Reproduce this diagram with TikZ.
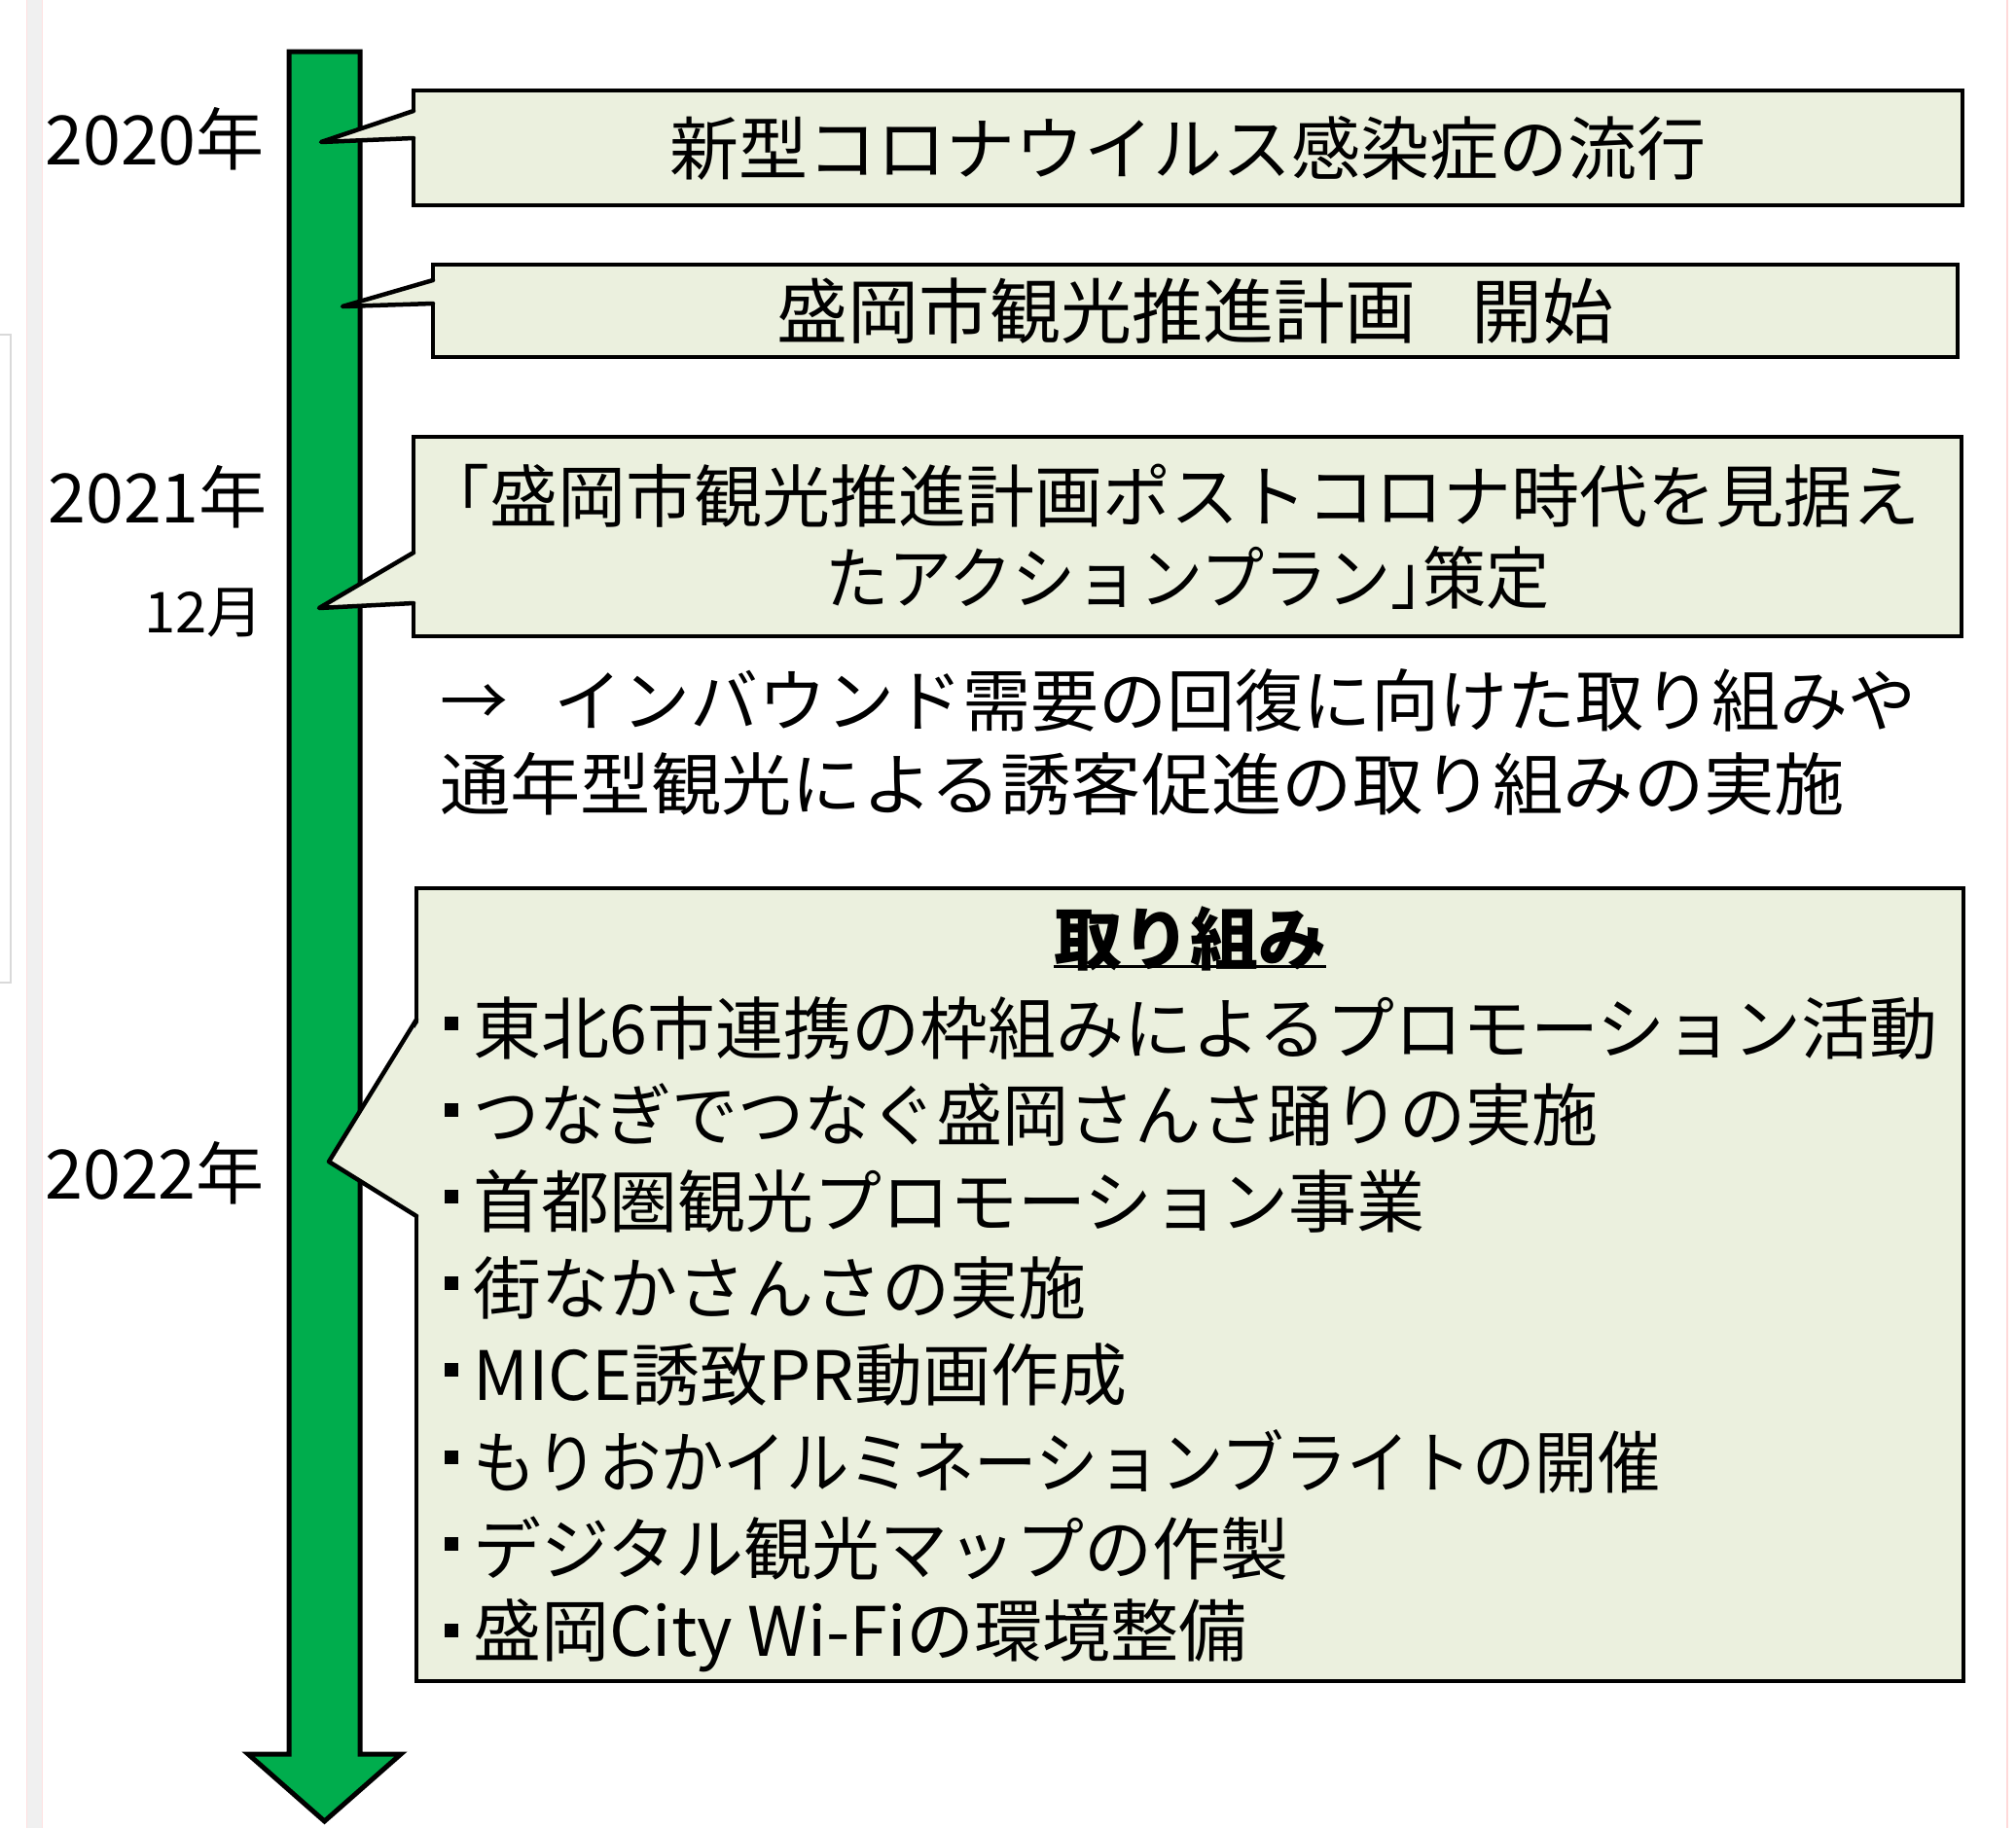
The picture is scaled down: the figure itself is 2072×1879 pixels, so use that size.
\documentclass[tikz,border=0pt]{standalone}
\usepackage{fontspec}
\setmainfont{Noto Sans CJK JP}
\definecolor{tlgreen}{HTML}{00AD4D}
\definecolor{boxfill}{HTML}{EBF0DE}
\begin{document}
\begin{tikzpicture}[x=1pt,y=-1pt,
  boxstyle/.style={draw=black, line width=4.5pt, fill=boxfill, rectangle, inner sep=0pt, align=center,
     font=\fontsize{70}{84}\selectfont},
  ptrfill/.style={fill=boxfill},
  ptrline/.style={draw=black, line width=4.5pt, line join=round, line cap=round},
  big/.style={font=\fontsize{70}{84}\selectfont, inner sep=0pt},
  year/.style={font=\fontsize{70}{84}\selectfont, inner sep=0pt, anchor=east},
  month/.style={font=\fontsize{58}{70}\selectfont, inner sep=0pt, anchor=east},
  item/.style={font=\fontsize{70}{84}\selectfont, inner sep=0pt, anchor=west},
  dot/.style={fill=black, inner sep=0pt, minimum size=14pt, rectangle},
]
\useasboundingbox (0,0) rectangle (2072,1879);
\fill[white] (0,0) rectangle (2072,1879);
% faint screenshot margins
\fill[black!6] (27,0) rectangle (43,1879);
\draw[red!12, line width=1pt] (27,0) -- (27,1879);
\draw[red!12, line width=1pt] (43,0) -- (43,1879);
\draw[black!15, line width=1.5pt] (-2,344) -- (11,344) -- (11,1010) -- (-2,1010);
\draw[red!15, line width=1.5pt] (2063,0) -- (2063,1879);

% timeline arrow
\draw[fill=tlgreen, line width=5pt, line join=miter]
  (297,53) -- (370,53) -- (370,1803) -- (412,1803) -- (333.5,1872) -- (255,1803) -- (297,1803) -- cycle;

% year labels
\node[year] (y2020) at (272,143) {2020年};
\node[year] (y2021) at (275,511) {2021年};
\node[month] (m12) at (271,630) {12月};
\node[year] (y2022) at (272,1206) {2022年};

% callout 1
\node[boxstyle, font=\fontsize{71}{84}\selectfont, minimum width=1592pt, minimum height=118pt] (b1) at (1221,152) {新型コロナウイルス感染症の流行};
\coordinate (p1) at (330,146);
\fill[ptrfill] (429,114) -- (p1) -- (429,142) -- cycle;
\draw[ptrline] (425,114) -- (p1) -- (425,142);

% callout 2
\node[boxstyle, font=\fontsize{73}{84}\selectfont, minimum width=1567pt, minimum height=95pt] (b2) at (1228.5,319.5) {盛岡市観光推進計画\hspace{58pt}開始};
\coordinate (p2) at (352,315);
\fill[ptrfill] (449,288) -- (p2) -- (449,312) -- cycle;
\draw[ptrline] (445,288) -- (p2) -- (445,312);

% callout 3
\node[boxstyle, minimum width=1591pt, minimum height=205pt] (b3) at (1220.5,551.5) {\kern-35pt「盛岡市観光推進計画ポストコロナ時代を見据え\\\scalebox{0.93}[1]{たアクションプラン」\kern-35pt策定}};
\coordinate (p3) at (328,625);
\fill[ptrfill] (429,568) -- (p3) -- (429,620) -- cycle;
\draw[ptrline] (425,568) -- (p3) -- (425,620);

% result text
\node[item] (r1) at (452,720) {→\hspace{47pt}インバウンド需要の回復に向けた取り組みや};
\node[item] (r2) at (452,806) {\scalebox{1.033}[1]{通年型観光による誘客促進の取り組みの実施}};

% callout 4
\node[boxstyle, minimum width=1590pt, minimum height=815pt] (b4) at (1223,1320.5) {};
\coordinate (p4) at (338,1194);
\fill[ptrfill] (432,1048) -- (p4) -- (432,1250) -- cycle;
\draw[ptrline] (428,1048) -- (p4) -- (428,1250);

\node[big, font=\fontsize{70}{84}\selectfont\bfseries] (title) at (1223,965) {取り組み};
\draw[line width=3.5pt] ([yshift=5pt]title.south west) -- ([yshift=5pt]title.south east);

\foreach \i/\t in {0/{東北6市連携の枠組みによるプロモーション活動},
                   1/{\scalebox{0.972}[1]{つなぎでつなぐ盛岡さんさ踊りの実施}},
                   2/{首都圏観光プロモーション事業},
                   3/{街なかさんさの実施},
                   4/{MICE誘致PR動画作成},
                   5/{\scalebox{0.92}[1]{もりおかイルミネーションブライトの開催}},
                   6/{デジタル観光マップの作製},
                   7/{盛岡City Wi-Fiの環境整備}}{
  \pgfmathsetmacro{\yy}{1057+89.1*\i}
  \node[dot] (d\i) at (464,\yy-5) {};
  \node[item] (it\i) at (486,\yy) {\t};
}
\end{tikzpicture}
\end{document}
